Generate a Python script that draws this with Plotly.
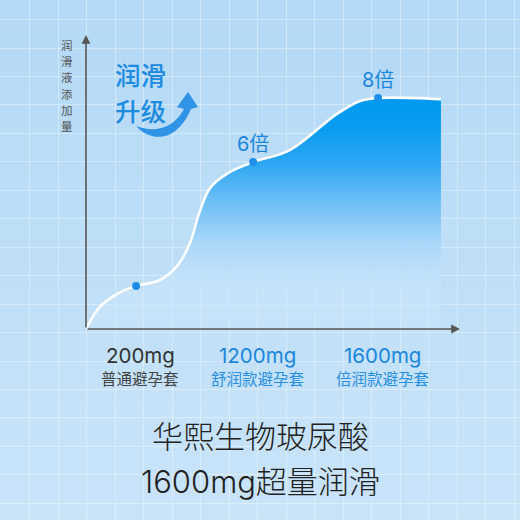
import base64, struct, zlib
import plotly.graph_objects as go

# ---- data ----
curve_x = [0, 0.37, 0.83, 1.34, 1.98, 2.46, 2.78, 3.02, 3.32, 3.80, 4.47, 5.45, 6.71, 7.33, 7.81, 9.49]
curve_y = [0, 0.79, 1.25, 1.54, 1.75, 2.29, 3.07, 4.11, 5.04, 5.57, 5.96, 6.39, 7.68, 8.14, 8.25, 8.21]
point_x = [1.34, 4.47, 7.81]
point_y = [1.54, 5.96, 8.25]
point_labels = ["", "6倍", "8倍"]
dose_labels = ["200mg", "1200mg", "1600mg"]
product_labels = ["普通避孕套", "舒润款避孕套", "倍润款避孕套"]
label_colors = ["#333333", "#1a86db", "#1a86db"]
sub_colors = ["#444444", "#2a90de", "#2a90de"]
y_title = "润滑液添加量"
badge_lines = ["润滑", "升级"]
title_lines = ["华熙生物玻尿酸", "1600mg超量润滑"]

W = H = 520
FONT = "Inter, Noto Sans CJK SC"
CJK = "Noto Sans CJK SC"


def gradient_png(h, top, bottom):
    raw = b""
    for i in range(h):
        t = i / (h - 1)
        c = bytes(round(top[k] + (bottom[k] - top[k]) * t) for k in range(3))
        raw += b"\x00" + c + c
    def chunk(tag, data):
        return struct.pack(">I", len(data)) + tag + data + struct.pack(">I", zlib.crc32(tag + data) & 0xffffffff)
    png = b"\x89PNG\r\n\x1a\n" + chunk(b"IHDR", struct.pack(">IIBBBBB", 2, h, 8, 2, 0, 0, 0))
    png += chunk(b"IDAT", zlib.compress(raw)) + chunk(b"IEND", b"")
    return "data:image/png;base64," + base64.b64encode(png).decode()


fig = go.Figure()

# background subplot (pixel space) - invisible anchor trace
fig.add_trace(go.Scatter(x=[0], y=[0], mode="markers", marker=dict(opacity=0),
                         hoverinfo="skip", showlegend=False, xaxis="x", yaxis="y"))

# main curve with gradient fill
fig.add_trace(go.Scatter(
    x=curve_x, y=curve_y, mode="lines", line=dict(color="white", width=2.6, shape="spline", smoothing=1.0),
    fill="tozeroy",
    fillgradient=dict(type="vertical", start=0, stop=8.3,
                      colorscale=[[0, "rgba(205,231,250,0.35)"], [0.2, "rgba(198,227,250,0.75)"],
                                  [0.38, "rgb(167,213,248)"], [0.55, "rgb(108,190,246)"],
                                  [0.72, "rgb(43,166,243)"], [0.86, "rgb(10,156,241)"],
                                  [1, "rgb(0,152,240)"]]),
    hoverinfo="skip", showlegend=False, xaxis="x2", yaxis="y2"))

fig.add_trace(go.Scatter(
    x=point_x, y=point_y, mode="markers+text", text=point_labels, textposition="top center",
    textfont=dict(family=FONT, size=20, color="#1a86db"),
    marker=dict(color="#1e8fe8", size=8), hoverinfo="skip", showlegend=False,
    xaxis="x2", yaxis="y2"))

annotations = []
# axes arrows
annotations.append(dict(x=10, y=0, ax=0, ay=0, xref="x2", yref="y2", axref="x2", ayref="y2",
                        showarrow=True, arrowhead=2, arrowsize=1.1, arrowwidth=1.6, arrowcolor="#555", text=""))
annotations.append(dict(x=0, y=10.5, ax=0, ay=0, xref="x2", yref="y2", axref="x2", ayref="y2",
                        showarrow=True, arrowhead=2, arrowsize=1.1, arrowwidth=1.6, arrowcolor="#555", text=""))

# category labels
for i in range(3):
    annotations.append(dict(x=point_x[i], y=355, xref="x2", yref="y", xshift=4, text=dose_labels[i],
                            showarrow=False, font=dict(family=FONT, size=20.5, color=label_colors[i])))
    annotations.append(dict(x=point_x[i], y=378, xref="x2", yref="y", xshift=4, text=product_labels[i],
                            showarrow=False, font=dict(family=CJK, size=15.5, color=sub_colors[i])))

# vertical y title (one character per line)
for i, ch in enumerate(y_title):
    annotations.append(dict(x=67, y=45 + 16.2 * i, xref="x", yref="y", text=ch, showarrow=False,
                            font=dict(family=CJK, size=11.5, color="#555")))

# badge text
for i, t in enumerate(badge_lines):
    annotations.append(dict(x=140.5, y=73 + 36.8 * i, xref="x", yref="y", text=t, showarrow=False,
                            font=dict(family=CJK, size=25.5, color="#1c8be0", weight=500)))

# bottom title
for i, t in enumerate(title_lines):
    annotations.append(dict(x=260, y=436 + 45 * i, xref="x", yref="y", text=t, showarrow=False,
                            font=dict(family=FONT, size=31, color="#222222", weight=300)))

shapes = [dict(type="path", xref="x", yref="y",
               path="M 136,126 C 148,140 175,146 191,109 L 198,107 L 188,92 L 177,107 L 184,109 "
                    "C 172,131 152,132 136,126 Z",
               fillcolor="#2f94e6", line=dict(width=0), layer="above")]

fig.update_layout(
    width=W, height=H, margin=dict(l=0, r=0, t=0, b=0),
    paper_bgcolor="#bfdff7", plot_bgcolor="rgba(0,0,0,0)",
    images=[dict(source=gradient_png(64, (180, 217, 246), (201, 228, 249)), xref="paper", yref="paper",
                 x=0, y=1, sizex=1, sizey=1, sizing="stretch", xanchor="left", yanchor="top", layer="below")],
    xaxis=dict(domain=[0, 1], range=[0, W], showgrid=True, gridcolor="rgba(255,255,255,0.35)", gridwidth=1.4,
               tick0=1, dtick=28.5, showticklabels=False, zeroline=False, showline=False, ticks="",
               fixedrange=True),
    yaxis=dict(domain=[0, 1], range=[H, 0], showgrid=True, gridcolor="rgba(255,255,255,0.35)", gridwidth=1.4,
               tick0=19.6, dtick=28.45, showticklabels=False, zeroline=False, showline=False, ticks="",
               fixedrange=True),
    xaxis2=dict(domain=[86 / W, 460 / W], range=[0, 10], anchor="y2", visible=False, fixedrange=True),
    yaxis2=dict(domain=[(H - 329) / H, (H - 35) / H], range=[0, 10.5], anchor="x2", visible=False,
                fixedrange=True),
    annotations=annotations, shapes=shapes, showlegend=False,
)

fig.write_html("out.html", config={"displayModeBar": False},
               post_script="document.body.style.margin='0';document.body.style.overflow='hidden';")
